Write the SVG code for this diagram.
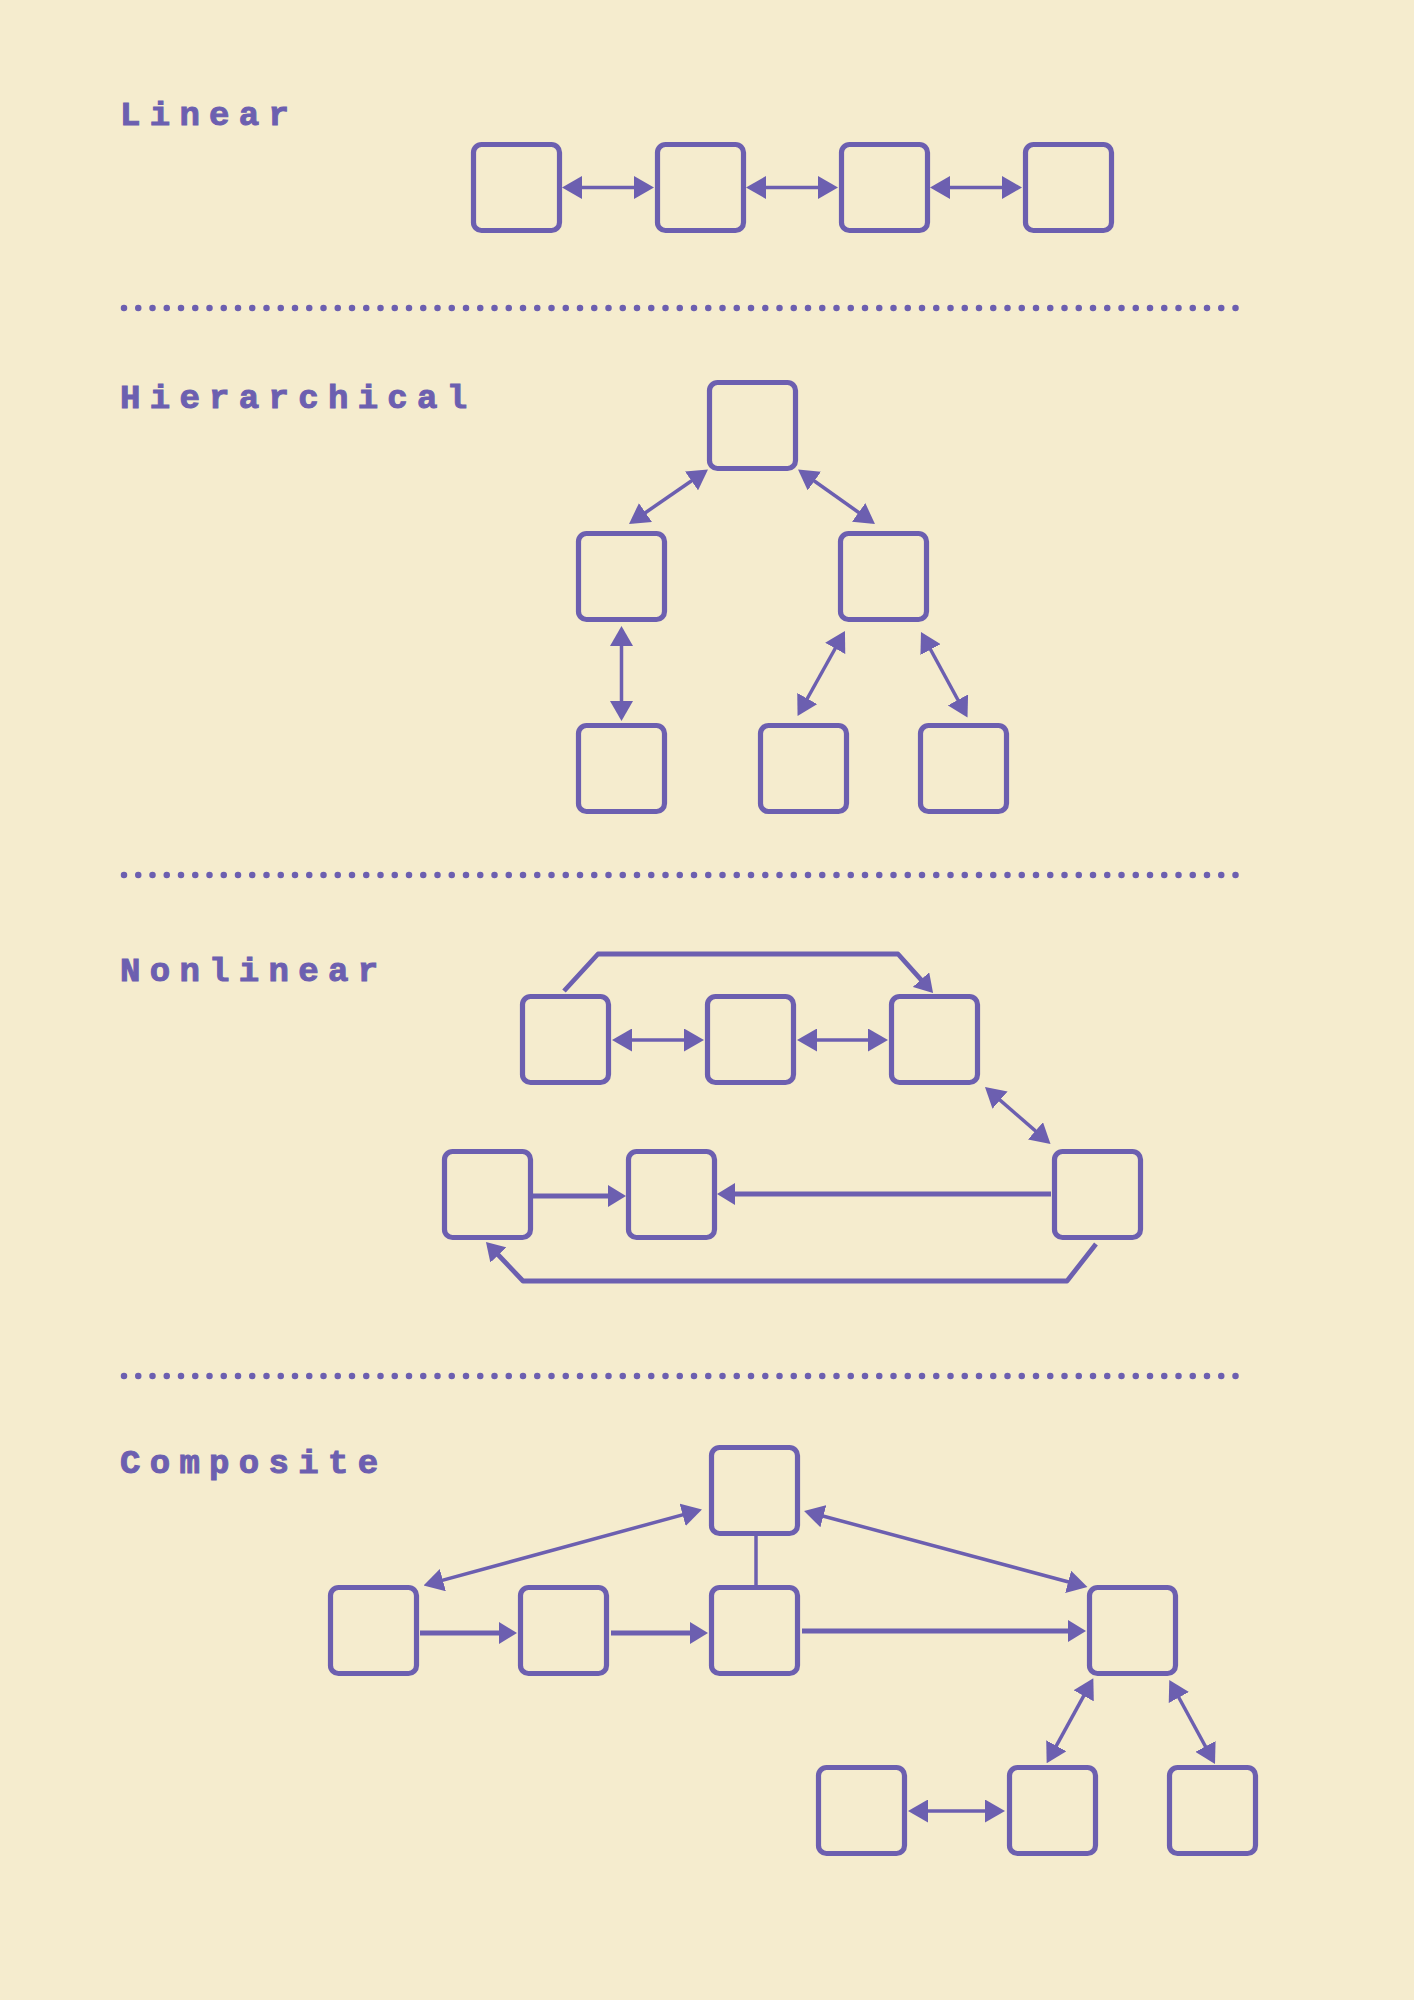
<svg xmlns="http://www.w3.org/2000/svg" width="1414" height="2000" viewBox="0 0 1414 2000">
<style>
.bg{fill:#f5ecce}
.box{fill:none;stroke:#6c5fb0;stroke-width:5.2}
.lbl{font-family:"Liberation Mono","Courier New","DejaVu Sans Mono",monospace;font-weight:bold;font-size:34px;letter-spacing:9.3px;fill:#6c5fb0;stroke:#6c5fb0;stroke-width:1}
.sep{stroke:#6c5fb0;stroke-width:6.5;stroke-linecap:round;stroke-dasharray:0 14.25;fill:none}
.thin{stroke:#6c5fb0;stroke-width:3.5;fill:none}
.thick{stroke:#6c5fb0;stroke-width:4.8;fill:none;stroke-linejoin:round}
.dbl{marker-start:url(#ha);marker-end:url(#ha)}
.one{marker-end:url(#hb)}
</style>
<defs>
<marker id="ha" viewBox="0 0 20 23" markerUnits="userSpaceOnUse" markerWidth="20" markerHeight="23" refX="16" refY="11.5" orient="auto-start-reverse"><path d="M0,0 L20,11.5 L0,23 Z" fill="#6c5fb0"/></marker>
<marker id="hb" viewBox="0 0 18 22" markerUnits="userSpaceOnUse" markerWidth="18" markerHeight="22" refX="13" refY="11" orient="auto-start-reverse"><path d="M0,0 L18,11 L0,22 Z" fill="#6c5fb0"/></marker>
</defs>
<rect class="bg" x="0" y="0" width="1414" height="2000"/>

<g id="labels">
<text class="lbl" x="120" y="125">Linear</text>
<text class="lbl" x="120" y="408">Hierarchical</text>
<text class="lbl" x="120" y="981">Nonlinear</text>
<text class="lbl" x="120" y="1473">Composite</text>
</g>

<g id="separators">
<line class="sep" x1="124" y1="308" x2="1236" y2="308"/>
<line class="sep" x1="124" y1="875" x2="1236" y2="875"/>
<line class="sep" x1="124" y1="1376" x2="1236" y2="1376"/>
</g>

<!-- Linear -->
<g id="lin1"><rect class="box" x="473.5" y="144.5" width="86" height="86" rx="8"/></g>
<g id="lin2"><rect class="box" x="657.5" y="144.5" width="86" height="86" rx="8"/></g>
<g id="lin3"><rect class="box" x="841.5" y="144.5" width="86" height="86" rx="8"/></g>
<g id="lin4"><rect class="box" x="1025.5" y="144.5" width="86" height="86" rx="8"/></g>

<!-- Hierarchical -->
<g id="hier-top"><rect class="box" x="709.5" y="382.5" width="86" height="86" rx="8"/></g>
<g id="hier-ml"><rect class="box" x="578.5" y="533.5" width="86" height="86" rx="8"/></g>
<g id="hier-mr"><rect class="box" x="840.5" y="533.5" width="86" height="86" rx="8"/></g>
<g id="hier-bl"><rect class="box" x="578.5" y="725.5" width="86" height="86" rx="8"/></g>
<g id="hier-bm"><rect class="box" x="760.5" y="725.5" width="86" height="86" rx="8"/></g>
<g id="hier-br"><rect class="box" x="920.5" y="725.5" width="86" height="86" rx="8"/></g>

<!-- Nonlinear -->
<g id="non1"><rect class="box" x="522.5" y="996.5" width="86" height="86" rx="8"/></g>
<g id="non2"><rect class="box" x="707.5" y="996.5" width="86" height="86" rx="8"/></g>
<g id="non3"><rect class="box" x="891.5" y="996.5" width="86" height="86" rx="8"/></g>
<g id="non4"><rect class="box" x="444.5" y="1151.5" width="86" height="86" rx="8"/></g>
<g id="non5"><rect class="box" x="628.5" y="1151.5" width="86" height="86" rx="8"/></g>
<g id="non6"><rect class="box" x="1054.5" y="1151.5" width="86" height="86" rx="8"/></g>

<!-- Composite -->
<g id="comp-top"><rect class="box" x="711.5" y="1447.5" width="86" height="86" rx="8"/></g>
<g id="comp1"><rect class="box" x="330.5" y="1587.5" width="86" height="86" rx="8"/></g>
<g id="comp2"><rect class="box" x="520.5" y="1587.5" width="86" height="86" rx="8"/></g>
<g id="comp3"><rect class="box" x="711.5" y="1587.5" width="86" height="86" rx="8"/></g>
<g id="comp4"><rect class="box" x="1089.5" y="1587.5" width="86" height="86" rx="8"/></g>
<g id="comp5"><rect class="box" x="818.5" y="1767.5" width="86" height="86" rx="8"/></g>
<g id="comp6"><rect class="box" x="1009.5" y="1767.5" width="86" height="86" rx="8"/></g>
<g id="comp7"><rect class="box" x="1169.5" y="1767.5" width="86" height="86" rx="8"/></g>

<g id="connectors">
<!-- linear -->
<line class="thin dbl" x1="566" y1="187.5" x2="650" y2="187.5"/>
<line class="thin dbl" x1="750" y1="187.5" x2="834" y2="187.5"/>
<line class="thin dbl" x1="934" y1="187.5" x2="1018" y2="187.5"/>
<!-- hierarchical -->
<line class="thin dbl" x1="632.3" y1="521.7" x2="704.7" y2="471.8"/>
<line class="thin dbl" x1="801.3" y1="471.8" x2="871.7" y2="521.7"/>
<line class="thin dbl" x1="621.5" y1="630" x2="621.5" y2="717"/>
<line class="thin dbl" x1="843" y1="634.5" x2="799.5" y2="712.5"/>
<line class="thin dbl" x1="922.9" y1="635.5" x2="965.6" y2="714"/>
<!-- nonlinear -->
<line class="thin dbl" x1="616" y1="1040" x2="700" y2="1040"/>
<line class="thin dbl" x1="801" y1="1040" x2="884" y2="1040"/>
<polyline class="thick one" points="564,991 598,954 898,954 929.7,989.3"/>
<line class="thin dbl" x1="988" y1="1089.6" x2="1047.5" y2="1141.4"/>
<line class="thick one" x1="532" y1="1196" x2="621" y2="1196"/>
<line class="thick one" x1="1051" y1="1194" x2="722" y2="1194"/>
<polyline class="thick one" points="1096,1244 1067,1281 523,1281 489.4,1245.6"/>
<!-- composite -->
<line class="thin dbl" x1="427.4" y1="1584.4" x2="698.1" y2="1510.6"/>
<line class="thin dbl" x1="807.9" y1="1512" x2="1083.6" y2="1586"/>
<line class="thin" x1="756" y1="1536" x2="756" y2="1585"/>
<line class="thick one" x1="420" y1="1633" x2="512" y2="1633"/>
<line class="thick one" x1="611" y1="1633" x2="703" y2="1633"/>
<line class="thick one" x1="802" y1="1631" x2="1081" y2="1631"/>
<line class="thin dbl" x1="1091.4" y1="1681.8" x2="1048.6" y2="1759.8"/>
<line class="thin dbl" x1="1171.2" y1="1683.5" x2="1213.1" y2="1760.5"/>
<line class="thin dbl" x1="912" y1="1811" x2="1001" y2="1811"/>
</g>
</svg>
